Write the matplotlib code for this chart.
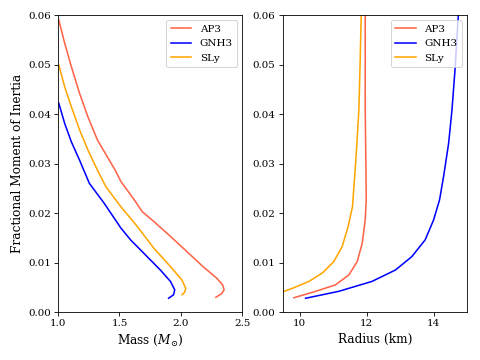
import matplotlib
matplotlib.use('Agg')
import matplotlib.pyplot as plt

plt.rcParams['font.family'] = 'DejaVu Serif'
plt.rcParams['mathtext.fontset'] = 'dejavuserif'
plt.rcParams['xtick.labelsize'] = 9.8
plt.rcParams['ytick.labelsize'] = 9.8
plt.rcParams['axes.labelsize'] = 11.6
plt.rcParams['legend.fontsize'] = 10

# fractional moment of inertia vs mass
ap3_m = [1.006, 1.054, 1.108, 1.175, 1.242, 1.32, 1.40, 1.465, 1.511, 1.62, 1.685, 1.78, 1.915, 2.05, 2.18,
         2.29, 2.34, 2.352, 2.33, 2.285]
ap3_im = [0.059, 0.0543, 0.0496, 0.0442, 0.0395, 0.0348, 0.0314, 0.0287, 0.0264, 0.0227, 0.0203, 0.0183, 0.0153,
          0.0122, 0.0092, 0.0069, 0.0055, 0.0045, 0.0037, 0.003]
sly_m = [1.006, 1.054, 1.108, 1.175, 1.242, 1.32, 1.39, 1.511, 1.645, 1.78, 1.915, 2.008, 2.04, 2.03, 2.01]
sly_im = [0.0499, 0.0455, 0.0415, 0.0368, 0.0328, 0.0287, 0.0253, 0.0213, 0.0173, 0.0129, 0.0092, 0.0065, 0.0048,
          0.004, 0.0035]
gnh3_m = [1.006, 1.054, 1.108, 1.175, 1.255, 1.375, 1.511, 1.59, 1.698, 1.833, 1.915, 1.95, 1.94, 1.90]
gnh3_im = [0.0422, 0.0381, 0.0344, 0.0307, 0.026, 0.022, 0.017, 0.0146, 0.0119, 0.0085, 0.0062, 0.0045, 0.0035,
           0.0028]

# fractional moment of inertia vs radius
ap3_r = [9.83, 10.48, 11.07, 11.47, 11.72, 11.87, 11.96, 11.99, 11.98, 11.96, 11.96]
ap3_ir = [0.0029, 0.0042, 0.0055, 0.0075, 0.0102, 0.0139, 0.0186, 0.0227, 0.03, 0.0408, 0.06]
sly_r = [9.3, 9.78, 10.28, 10.68, 11.02, 11.27, 11.45, 11.58, 11.68, 11.77, 11.81, 11.84]
sly_ir = [0.0036, 0.0048, 0.0062, 0.0079, 0.0102, 0.0132, 0.0173, 0.0213, 0.0307, 0.0408, 0.0509, 0.06]
gnh3_r = [10.18, 11.17, 12.16, 12.86, 13.35, 13.75, 14.0, 14.18, 14.3, 14.45, 14.55, 14.64, 14.74]
gnh3_ir = [0.0028, 0.0042, 0.0062, 0.0085, 0.0112, 0.0146, 0.0186, 0.0227, 0.0274, 0.0341, 0.0408, 0.0489, 0.06]

fig = plt.figure(figsize=(6.4, 4.8), dpi=75)
ax1 = fig.add_subplot(1, 2, 1)
ax2 = fig.add_subplot(1, 2, 2)
fig.subplots_adjust(left=0.121, right=0.973, bottom=0.133, top=0.958, wspace=0.22)

ax1.plot(ap3_m, ap3_im, color='tomato', lw=1.5, label='AP3')
ax1.plot(gnh3_m, gnh3_im, color='blue', lw=1.5, label='GNH3')
ax1.plot(sly_m, sly_im, color='orange', lw=1.5, label='SLy')
ax1.set_xlim(1.0, 2.5)
ax1.set_ylim(0, 0.06)
ax1.set_xticks([1.0, 1.5, 2.0, 2.5])
ax1.set_xlabel(r'Mass ($M_{\odot}$)')
ax1.set_ylabel('Fractional Moment of Inertia')
ax1.legend(loc='upper right')

ax2.plot(ap3_r, ap3_ir, color='tomato', lw=1.5, label='AP3')
ax2.plot(gnh3_r, gnh3_ir, color='blue', lw=1.5, label='GNH3')
ax2.plot(sly_r, sly_ir, color='orange', lw=1.5, label='SLy')
ax2.set_xlim(9.5, 15)
ax2.set_ylim(0, 0.06)
ax2.set_xticks([10, 12, 14])
ax2.set_xlabel('Radius (km)')
ax2.legend(loc='upper right')

plt.savefig('out.png', dpi=75)
